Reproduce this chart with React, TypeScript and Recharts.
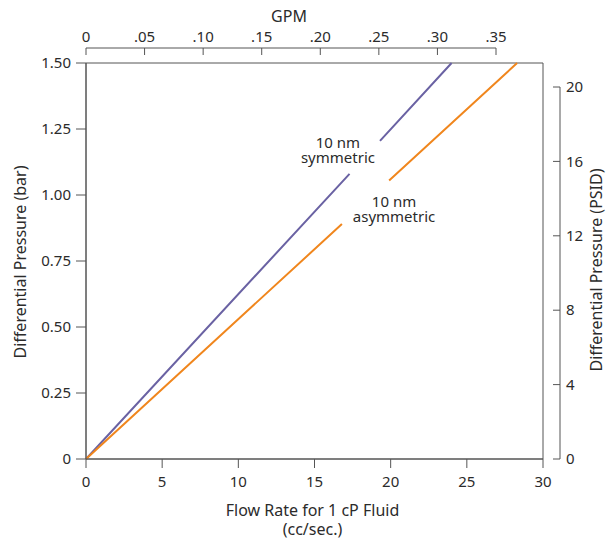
import { LineChart, Line, XAxis, YAxis, ReferenceArea, ReferenceDot } from "recharts";

const W = 613;
const H = 542;
const FONT = "'Noto Sans', sans-serif";
const INK = "#2b2b2b";
const RULE = "#555";

// axis ticks
const flowTicks = [0, 5, 10, 15, 20, 25, 30];
const barTicks = [0, 0.25, 0.5, 0.75, 1, 1.25, 1.5];
const psidTicks = [0, 4, 8, 12, 16, 20];
const gpmTicks = [0, 0.05, 0.1, 0.15, 0.2, 0.25, 0.3, 0.35];

// flow (cc/sec) vs pressure (bar), null = gap left for the label
const symmetric = [
  { flow: 0, bar: 0 },
  { flow: 17.3, bar: 1.08 },
  { flow: 18.3, bar: null },
  { flow: 19.3, bar: 1.205 },
  { flow: 24.0, bar: 1.5 },
];
const asymmetric = [
  { flow: 0, bar: 0 },
  { flow: 16.8, bar: 0.89 },
  { flow: 18.3, bar: null },
  { flow: 19.9, bar: 1.055 },
  { flow: 28.3, bar: 1.5 },
];

const textStyle = { fontFamily: FONT, fontSize: 15, fill: INK };
const titleStyle = { fontFamily: FONT, fontSize: 16, fill: INK };

const fmtBar = (v: number) => (v === 0 ? "0" : v.toFixed(2));
const fmtGpm = (v: number) => (v === 0 ? "0" : v.toFixed(2).replace(/^0/, ""));

function GpmTick({ x, y, payload }: any) {
  return (
    <g>
      <line x1={x} x2={x} y1={y + 6} y2={y + 13} stroke={RULE} />
      <text x={x} y={y} textAnchor="middle" {...textStyle}>
        {fmtGpm(payload.value)}
      </text>
    </g>
  );
}

function PsidTick({ x, y, payload }: any) {
  return (
    <g>
      <line x1={x - 13} x2={x - 6} y1={y} y2={y} stroke={RULE} />
      <text x={x} y={y} dy="0.35em" textAnchor="start" {...textStyle}>
        {payload.value}
      </text>
    </g>
  );
}

function SideTitle({ viewBox, text, dx, dy }: any) {
  const cx = viewBox.x + dx;
  const cy = viewBox.y + viewBox.height / 2 + dy;
  return (
    <text
      x={cx}
      y={cy}
      dy="0.35em"
      textAnchor="middle"
      transform={`rotate(-90 ${cx} ${cy})`}
      {...titleStyle}
    >
      {text}
    </text>
  );
}

function BottomTitle({ viewBox }: any) {
  const cx = viewBox.x + viewBox.width / 2 - 2;
  return (
    <text x={cx} y={viewBox.y + 57} textAnchor="middle" {...titleStyle}>
      <tspan x={cx}>Flow Rate for 1 cP Fluid</tspan>
      <tspan x={cx} dy={19}>(cc/sec.)</tspan>
    </text>
  );
}

function TopTitle({ viewBox }: any) {
  return (
    <text x={viewBox.x + viewBox.width / 2 - 2} y={22} textAnchor="middle" {...titleStyle}>
      GPM
    </text>
  );
}

function Note({ viewBox, lines }: any) {
  const { x, y } = viewBox;
  return (
    <text x={x} y={y} textAnchor="middle" {...textStyle}>
      {lines.map((l: string, i: number) => (
        <tspan key={i} x={x} dy={i ? 15 : 0}>
          {l}
        </tspan>
      ))}
    </text>
  );
}

const layer = { position: "absolute" as const, left: 0, top: 0 };

export default function App() {
  return (
    <div style={{ position: "absolute", left: 0, top: 0, width: W, height: H, background: "#fff" }}>
      {/* main plot: flow vs bar */}
      <div style={layer}>
        <LineChart width={W} height={H} margin={{ top: 63, right: 70, bottom: 0, left: 0 }}>
          <XAxis
            type="number"
            dataKey="flow"
            domain={[0, 30]}
            ticks={flowTicks}
            height={83}
            tickSize={9}
            tickMargin={8}
            stroke={RULE}
            tick={textStyle}
            label={<BottomTitle />}
          />
          <YAxis
            type="number"
            domain={[0, 1.5]}
            ticks={barTicks}
            width={86}
            tickSize={10}
            tickMargin={5}
            stroke={RULE}
            tick={textStyle}
            tickFormatter={fmtBar}
            label={<SideTitle text="Differential Pressure (bar)" dx={20} dy={1} />}
          />
          <ReferenceArea x1={0} x2={30} y1={0} y2={1.5} fill="none" stroke={RULE} strokeOpacity={1} />
          <Line
            data={symmetric}
            dataKey="bar"
            stroke="#6a62a3"
            strokeWidth={2}
            dot={false}
            isAnimationActive={false}
          />
          <Line
            data={asymmetric}
            dataKey="bar"
            stroke="#f0861d"
            strokeWidth={2}
            dot={false}
            isAnimationActive={false}
          />
          <ReferenceDot x={16.54} y={1.178} r={0} fill="none" stroke="none" label={<Note lines={["10 nm", "symmetric"]} />} />
          <ReferenceDot x={20.22} y={0.955} r={0} fill="none" stroke="none" label={<Note lines={["10 nm", "asymmetric"]} />} />
        </LineChart>
      </div>

      {/* top GPM scale */}
      <div style={layer}>
        <LineChart
          width={W}
          height={H}
          data={gpmTicks.map((g) => ({ gpm: g }))}
          margin={{ top: 0, right: 117, bottom: 40, left: 86 }}
        >
          <XAxis
            xAxisId="gpm"
            orientation="top"
            type="number"
            dataKey="gpm"
            domain={[0, 0.35]}
            ticks={gpmTicks}
            height={48}
            tickSize={0}
            tickMargin={6}
            stroke={RULE}
            tickLine={false}
            tick={<GpmTick />}
            label={<TopTitle />}
          />
          <YAxis yAxisId="g" hide domain={[0, 1]} />
          <Line xAxisId="gpm" yAxisId="g" dataKey="gpm" stroke="none" dot={false} isAnimationActive={false} />
        </LineChart>
      </div>

      {/* right PSID scale */}
      <div style={layer}>
        <LineChart
          width={W}
          height={H}
          data={psidTicks.map((p) => ({ psid: p }))}
          margin={{ top: 87, right: 0, bottom: 83, left: 0 }}
        >
          <XAxis xAxisId="p" hide />
          <YAxis
            yAxisId="psid"
            orientation="right"
            type="number"
            domain={[0, 20]}
            ticks={psidTicks}
            width={53}
            tickSize={0}
            tickMargin={6}
            stroke={RULE}
            tickLine={false}
            tick={<PsidTick />}
            label={<SideTitle text="Differential Pressure (PSID)" dx={36} dy={-3} />}
          />
          <Line xAxisId="p" yAxisId="psid" dataKey="psid" stroke="none" dot={false} isAnimationActive={false} />
        </LineChart>
      </div>
    </div>
  );
}
